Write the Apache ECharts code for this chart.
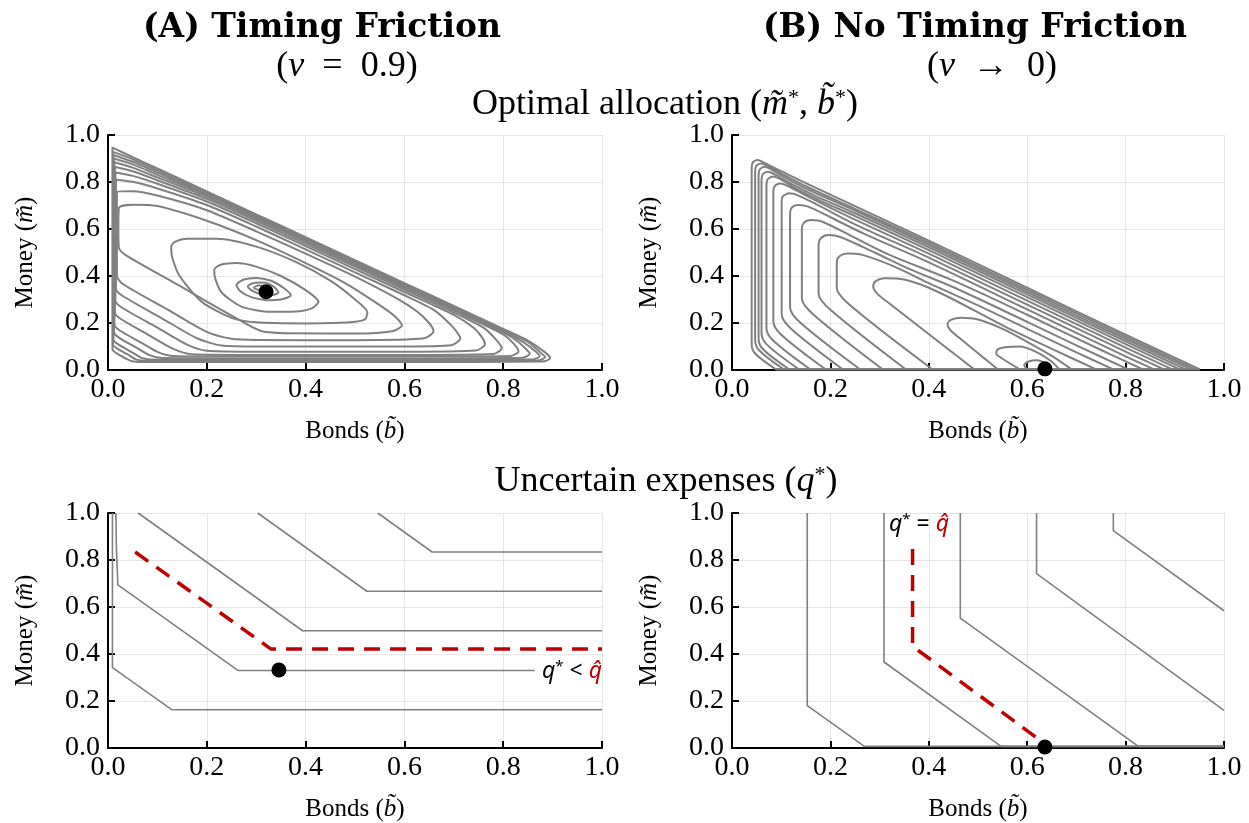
<!DOCTYPE html>
<html><head><meta charset="utf-8">
<script src="https://cdn.jsdelivr.net/npm/echarts/dist/echarts.min.js"></script>
<style>html,body{margin:0;padding:0;background:#fff}#c{width:1249px;height:823px}</style>
</head><body><div id="c"></div>
<script>
// ---------- DATA ----------
const tickValues = [0.0, 0.2, 0.4, 0.6, 0.8, 1.0];

// Panel A top: contours over (bonds, money), nu = 0.9
const contoursA = [
 [[0.009,0.5],[0.009,0.946],[0.05,0.906],[0.1,0.8575],[0.2,0.76],[0.3,0.6625],[0.4,0.565],[0.5,0.4675],[0.6,0.37],[0.7,0.2725],[0.8,0.175],[0.85,0.125],[0.885,0.075],[0.895,0.05],[0.88,0.036],[0.6,0.034],[0.3,0.034],[0.07,0.034],[0.048,0.037],[0.035,0.05],[0.016,0.073],[0.009,0.088],[0.009,0.5]],
 [[0.01,0.5],[0.01,0.928],[0.05,0.897],[0.1,0.8495],[0.2,0.7555],[0.3,0.658],[0.4,0.561],[0.5,0.4635],[0.6,0.366],[0.7,0.2685],[0.8,0.171],[0.85,0.12],[0.875,0.075],[0.885,0.055],[0.87,0.04],[0.6,0.038],[0.3,0.038],[0.08,0.039],[0.058,0.044],[0.04,0.066],[0.018,0.092],[0.01,0.108],[0.01,0.5]],
 [[0.011,0.5],[0.011,0.915],[0.05,0.886],[0.1,0.8405],[0.2,0.75],[0.3,0.6535],[0.4,0.556],[0.5,0.4585],[0.6,0.361],[0.7,0.2635],[0.8,0.166],[0.84,0.12],[0.865,0.08],[0.874,0.06],[0.86,0.045],[0.6,0.043],[0.3,0.043],[0.095,0.044],[0.07,0.05],[0.05,0.074],[0.02,0.11],[0.011,0.13],[0.011,0.5]],
 [[0.012,0.5],[0.012,0.9],[0.05,0.875],[0.1,0.8305],[0.2,0.744],[0.3,0.6485],[0.4,0.551],[0.5,0.4535],[0.6,0.356],[0.7,0.2585],[0.8,0.161],[0.83,0.12],[0.848,0.085],[0.854,0.069],[0.84,0.052],[0.6,0.049],[0.3,0.049],[0.11,0.051],[0.085,0.062],[0.06,0.092],[0.022,0.138],[0.012,0.162],[0.012,0.5]],
 [[0.013,0.5],[0.013,0.884],[0.05,0.861],[0.1,0.8195],[0.2,0.737],[0.3,0.6425],[0.4,0.545],[0.5,0.4475],[0.6,0.35],[0.7,0.2525],[0.8,0.152],[0.822,0.11],[0.831,0.079],[0.815,0.06],[0.6,0.057],[0.3,0.057],[0.13,0.06],[0.1,0.077],[0.07,0.113],[0.024,0.168],[0.013,0.195],[0.013,0.5]],
 [[0.014,0.5],[0.014,0.864],[0.05,0.846],[0.1,0.8075],[0.2,0.728],[0.3,0.6345],[0.4,0.537],[0.5,0.4395],[0.6,0.342],[0.7,0.2445],[0.76,0.18],[0.785,0.13],[0.797,0.093],[0.78,0.068],[0.6,0.064],[0.3,0.064],[0.17,0.067],[0.13,0.092],[0.08,0.152],[0.026,0.217],[0.014,0.245],[0.014,0.5]],
 [[0.015,0.5],[0.015,0.84],[0.05,0.826],[0.1,0.7925],[0.2,0.717],[0.3,0.6245],[0.4,0.527],[0.5,0.4295],[0.6,0.332],[0.7,0.2345],[0.74,0.18],[0.757,0.14],[0.763,0.11],[0.745,0.083],[0.6,0.078],[0.3,0.078],[0.2,0.082],[0.16,0.108],[0.1,0.18],[0.028,0.266],[0.015,0.295],[0.015,0.5]],
 [[0.016,0.5],[0.016,0.81],[0.05,0.801],[0.1,0.7725],[0.2,0.702],[0.3,0.6105],[0.4,0.513],[0.5,0.4155],[0.6,0.318],[0.66,0.255],[0.695,0.19],[0.71,0.15],[0.713,0.134],[0.695,0.105],[0.6,0.1],[0.3,0.1],[0.23,0.104],[0.18,0.135],[0.11,0.219],[0.03,0.315],[0.016,0.345],[0.016,0.5]],
 [[0.018,0.5],[0.018,0.76],[0.05,0.761],[0.1,0.7425],[0.2,0.68],[0.3,0.59],[0.4,0.495],[0.5,0.3975],[0.58,0.31],[0.625,0.25],[0.65,0.2],[0.659,0.165],[0.64,0.135],[0.5,0.127],[0.3,0.128],[0.25,0.133],[0.2,0.162],[0.12,0.258],[0.03,0.366],[0.018,0.4],[0.018,0.5]],
 [[0.021,0.6],[0.022,0.69],[0.05,0.703],[0.1,0.6975],[0.2,0.635],[0.3,0.5525],[0.4,0.455],[0.48,0.37],[0.54,0.29],[0.58,0.23],[0.595,0.19],[0.575,0.165],[0.5,0.155],[0.37,0.156],[0.31,0.166],[0.26,0.22],[0.14,0.364],[0.035,0.49],[0.022,0.52],[0.021,0.6]],
 [[0.4,0.198],[0.3,0.203],[0.25,0.222],[0.19,0.29],[0.145,0.4],[0.13,0.48],[0.128,0.525],[0.135,0.545],[0.16,0.558],[0.22,0.558],[0.3,0.525],[0.38,0.46],[0.45,0.38],[0.5,0.3],[0.525,0.245],[0.52,0.215],[0.49,0.203],[0.4,0.198]],
 [[0.32,0.248],[0.27,0.27],[0.23,0.33],[0.217,0.39],[0.215,0.426],[0.227,0.447],[0.26,0.455],[0.3,0.44],[0.35,0.4],[0.4,0.34],[0.426,0.29],[0.41,0.26],[0.37,0.248],[0.32,0.248]],
 [[0.32,0.297],[0.29,0.31],[0.268,0.335],[0.26,0.362],[0.275,0.385],[0.3,0.392],[0.33,0.38],[0.355,0.35],[0.37,0.318],[0.35,0.3],[0.32,0.297]],
 [[0.305,0.325],[0.29,0.34],[0.283,0.356],[0.295,0.37],[0.315,0.372],[0.335,0.355],[0.345,0.33],[0.33,0.318],[0.305,0.325]],
 [[0.31,0.338],[0.295,0.35],[0.305,0.36],[0.32,0.358],[0.33,0.345],[0.325,0.335],[0.31,0.338]]
];
const optimumA = [[0.32, 0.333]];

// Panel B top: contours, nu -> 0 (open curves ending on the m = 0 edge)
const contoursB = [
 [[0.089,0.003],[0.047,0.070],[0.040,0.112],[0.040,0.85],[0.042,0.882],[0.052,0.894],[0.07,0.877],[0.1,0.846],[0.15,0.795],[0.25,0.697],[0.4,0.55],[0.6,0.35],[0.8,0.15],[0.951,0.003]],
 [[0.105,0.003],[0.056,0.082],[0.047,0.127],[0.047,0.835],[0.049,0.867],[0.059,0.879],[0.075,0.866],[0.1,0.837],[0.15,0.782],[0.25,0.686],[0.4,0.541],[0.6,0.341],[0.8,0.141],[0.942,0.003]],
 [[0.116,0.003],[0.063,0.088],[0.054,0.134],[0.054,0.82],[0.056,0.852],[0.066,0.865],[0.08,0.853],[0.1,0.828],[0.15,0.772],[0.25,0.678],[0.4,0.532],[0.6,0.332],[0.8,0.132],[0.933,0.003]],
 [[0.136,0.003],[0.071,0.108],[0.060,0.157],[0.060,0.8],[0.062,0.831],[0.073,0.844],[0.09,0.829],[0.12,0.793],[0.17,0.74],[0.25,0.667],[0.4,0.522],[0.6,0.322],[0.8,0.122],[0.922,0.003]],
 [[0.159,0.003],[0.083,0.127],[0.070,0.179],[0.070,0.78],[0.072,0.81],[0.084,0.823],[0.1,0.81],[0.13,0.772],[0.18,0.72],[0.25,0.655],[0.4,0.51],[0.6,0.31],[0.8,0.11],[0.91,0.003]],
 [[0.19,0.003],[0.1,0.15],[0.084,0.207],[0.084,0.75],[0.086,0.78],[0.098,0.794],[0.115,0.782],[0.15,0.743],[0.2,0.69],[0.25,0.64],[0.4,0.495],[0.6,0.295],[0.8,0.095],[0.895,0.003]],
 [[0.225,0.003],[0.12,0.176],[0.101,0.237],[0.101,0.71],[0.103,0.738],[0.117,0.752],[0.135,0.742],[0.17,0.707],[0.25,0.62],[0.4,0.478],[0.6,0.278],[0.8,0.078],[0.878,0.003]],
 [[0.26,0.003],[0.139,0.201],[0.118,0.267],[0.118,0.66],[0.121,0.69],[0.135,0.702],[0.155,0.695],[0.2,0.65],[0.27,0.578],[0.4,0.458],[0.6,0.258],[0.8,0.058],[0.858,0.003]],
 [[0.306,0.003],[0.167,0.233],[0.142,0.304],[0.142,0.6],[0.146,0.626],[0.16,0.638],[0.185,0.63],[0.25,0.562],[0.32,0.49],[0.45,0.38],[0.6,0.235],[0.75,0.085],[0.835,0.003]],
 [[0.353,0.003],[0.203,0.251],[0.176,0.325],[0.176,0.535],[0.181,0.562],[0.196,0.574],[0.22,0.566],[0.29,0.5],[0.36,0.43],[0.45,0.352],[0.6,0.205],[0.7,0.105],[0.805,0.003]],
 [[0.407,0.003],[0.242,0.272],[0.213,0.35],[0.213,0.46],[0.219,0.485],[0.235,0.496],[0.265,0.49],[0.33,0.44],[0.4,0.37],[0.5,0.275],[0.6,0.175],[0.7,0.075],[0.775,0.003]],
 [[0.492,0.003],[0.32,0.283],[0.295,0.325],[0.287,0.355],[0.292,0.378],[0.31,0.39],[0.35,0.385],[0.4,0.35],[0.45,0.3],[0.55,0.19],[0.65,0.09],[0.74,0.003]],
 [[0.54,0.003],[0.46,0.14],[0.443,0.172],[0.438,0.195],[0.445,0.213],[0.465,0.222],[0.5,0.215],[0.55,0.175],[0.6,0.12],[0.65,0.06],[0.69,0.003]],
 [[0.585,0.003],[0.55,0.048],[0.537,0.07],[0.54,0.088],[0.555,0.097],[0.585,0.1],[0.62,0.075],[0.65,0.035],[0.665,0.003]],
 [[0.6,0.003],[0.594,0.02],[0.603,0.036],[0.62,0.041],[0.636,0.028],[0.648,0.003]]
];
const baselineB = [[0.089,0.003],[0.951,0.003]];
const optimumB = [[0.636, 0.005]];

// Bottom: uncertain expenses q* iso-lines
const expensesA = [
 [[0.009,1.0],[0.009,0.342],[0.129,0.163],[1.0,0.163]],
 [[0.016,1.0],[0.017,0.85],[0.02,0.694],[0.263,0.33],[0.864,0.33]],
 [[0.061,1.0],[0.394,0.499],[1.0,0.499]],
 [[0.303,1.0],[0.524,0.667],[1.0,0.667]],
 [[0.546,1.0],[0.656,0.834],[1.0,0.834]]
];
const qhatA = [[0.055,0.834],[0.33,0.421],[1.0,0.421]];
const pointA = [[0.346, 0.332]];

const expensesB = [
 [[0.153,1.0],[0.153,0.18],[0.269,0.007],[1.0,0.007]],
 [[0.309,1.0],[0.309,0.366],[0.547,0.007],[1.0,0.007]],
 [[0.464,1.0],[0.464,0.553],[0.826,0.007],[1.0,0.007]],
 [[0.619,1.0],[0.619,0.742],[1.0,0.16]],
 [[0.775,1.0],[0.775,0.925],[1.0,0.584]]
];
const qhatB = [[0.367,0.847],[0.367,0.433],[0.628,0.03]];
const pointB = [[0.636, 0.004]];

// ---------- CHART ----------
const SERIF = '"Liberation Serif", "Times New Roman", serif';
const GRAY = '#808080';
const RED = '#c00000';
const grids = [
  {left:108, top:135, width:494, height:235},
  {left:732, top:135, width:492, height:235},
  {left:108, top:513, width:494, height:235},
  {left:732, top:513, width:492, height:235}
];
const nameStyle = {fontFamily:SERIF, fontSize:25, color:'#000', rich:{v:{fontFamily:SERIF, fontSize:25, fontStyle:'italic', color:'#000'}}};
function xAx(i){
  return {type:'value', gridIndex:i, min:tickValues[0], max:tickValues[tickValues.length-1], interval:tickValues[1]-tickValues[0],
    name:'Bonds ({v|b̃})', nameLocation:'middle', nameGap:49, nameTextStyle:nameStyle,
    axisLine:{onZero:false, lineStyle:{color:'#000', width:2}},
    axisTick:{inside:true, length:7, lineStyle:{color:'#000', width:2}},
    axisLabel:{formatter:v=>v.toFixed(1), fontFamily:SERIF, fontSize:28, color:'#000', margin:6, showMinLabel:true, showMaxLabel:true},
    splitLine:{show:true, lineStyle:{color:'#e6e6e6', width:1}}};
}
function yAx(i){
  return {type:'value', gridIndex:i, min:tickValues[0], max:tickValues[tickValues.length-1], interval:tickValues[1]-tickValues[0],
    name:'Money ({v|m̃})', nameLocation:'middle', nameGap:70, nameRotate:90, nameTextStyle:nameStyle,
    axisLine:{onZero:false, lineStyle:{color:'#000', width:2}},
    axisTick:{inside:true, length:7, lineStyle:{color:'#000', width:2}},
    axisLabel:{formatter:v=>v.toFixed(1), fontFamily:SERIF, fontSize:28, color:'#000', margin:8, showMinLabel:true, showMaxLabel:true},
    splitLine:{show:true, lineStyle:{color:'#e6e6e6', width:1}}};
}
function line(data, i, color, width, smooth, dash){
  return {type:'line', xAxisIndex:i, yAxisIndex:i, data:data, symbol:'none', showSymbol:false,
    smooth:smooth, silent:true, animation:false, z:3,
    lineStyle:{color:color, width:width, type: dash || 'solid', cap:'butt', join:'round'}};
}
function dot(data, i){
  return {type:'scatter', xAxisIndex:i, yAxisIndex:i, data:data, symbol:'circle', symbolSize:15,
    itemStyle:{color:'#000', opacity:1}, clip:false, silent:true, animation:false, z:10};
}
const series = [];
contoursA.forEach(c => series.push(line(c, 0, GRAY, 2, 0.25)));
series.push(dot(optimumA, 0));
series.push(line(baselineB, 1, GRAY, 2.5, false));
contoursB.forEach(c => series.push(line(c, 1, GRAY, 2, 0.3)));
series.push(dot(optimumB, 1));
expensesA.forEach(c => series.push(line(c, 2, GRAY, 1.6, false)));
series.push(line(qhatA, 2, RED, 3.5, false, [16, 10]));
series.push(dot(pointA, 2));
expensesB.forEach(c => series.push(line(c, 3, GRAY, 1.6, false)));
series.push(line(qhatB, 3, RED, 3.5, false, [16, 10]));
series.push(dot(pointB, 3));

function txt(x, y, text, font, rich, align){
  return {type:'text', x:x, y:y, silent:true, z:100,
    style:{text:text, font:font, fill:'#000', textAlign:align||'center', textVerticalAlign:'middle', rich:rich}};
}
const richMath = {
  i:{fontFamily:SERIF, fontSize:36, fontStyle:'italic', fill:'#000'},
  s:{fontFamily:SERIF, fontSize:22, fill:'#000', verticalAlign:'top'}
};
const SANS = '"Noto Sans", sans-serif';
const richLab = {
  q:{fontFamily:SANS, fontSize:23, fontStyle:'italic', fill:'#000'},
  s:{fontFamily:SANS, fontSize:15, fill:'#000', verticalAlign:'top'},
  r:{fontFamily:SANS, fontSize:23, fontStyle:'italic', fill:RED}
};

const chart = echarts.init(document.getElementById('c'), null, {renderer:'canvas'});
chart.setOption({
  animation:false,
  backgroundColor:'#fff',
  grid:grids,
  xAxis:[xAx(0), xAx(1), xAx(2), xAx(3)],
  yAxis:[yAx(0), yAx(1), yAx(2), yAx(3)],
  series:series,
  graphic:[
    txt(322, 28, '(A) Timing Friction', 'bold 33px "DejaVu Serif"'),
    txt(975, 28, '(B) No Timing Friction', 'bold 33px "DejaVu Serif"'),
    txt(347, 67, '({i|ν}\u2002=\u20020.9)', '36px ' + SERIF, richMath),
    txt(992, 67, '({i|ν}\u2002→\u20020)', '36px ' + SERIF, richMath),
    txt(665, 105, 'Optimal allocation ({i|m̃}{s|*}, {i|b̃}{s|*})', '36px ' + SERIF, richMath),
    txt(666, 482, 'Uncertain expenses ({i|q}{s|*})', '36px ' + SERIF, richMath),
    txt(602, 671, '{q|q}{s|*} < {r|q̂}', '23px ' + SANS, richLab, 'right'),
    txt(919, 524, '{q|q}{s|*} = {r|q̂}', '23px ' + SANS, richLab)
  ]
});
</script>
</body></html>
